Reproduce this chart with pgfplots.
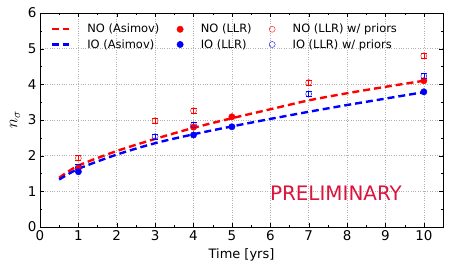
\documentclass[border=0pt]{standalone}
\usepackage{pgfplots}
\pgfplotsset{compat=1.18}
\usepackage{fontspec}
\setmainfont{DejaVu Sans}
\definecolor{prelim}{RGB}{220,20,60}
\begin{document}
\begin{tikzpicture}
\path[use as bounding box] (-40bp,-43bp) rectangle (410bp,227bp);
\begin{axis}[
  scale only axis, width=403bp, height=214bp,
  xmin=0, xmax=10.5, ymin=0, ymax=6,
  xtick={0,1,...,10}, ytick={0,1,...,6},
  minor xtick={0.5,1.5,...,10.5}, minor ytick={0.5,1.5,...,5.5},
  tick align=inside, ticks=both,
  xtick pos=both, ytick pos=both,
  major tick length=4bp, minor tick length=2bp,
  grid=major, major grid style={gray!60, dotted, line width=0.6pt},
  axis line style={black, line width=0.8pt},
  tick style={black},
  /pgf/number format/assume math mode=true,
  tick label style={font=\fontsize{13.5}{13.5}\selectfont},
  xlabel={Time [yrs]}, ylabel={$n_\sigma$},
  xlabel style={font=\fontsize{13}{13}\selectfont, yshift=-1bp},
  ylabel style={font=\fontsize{17}{17}\selectfont, yshift=1bp},
  legend columns=3,
  legend style={draw=none, fill=none, at={(0.018,0.965)}, anchor=north west,
    font=\fontsize{11.5}{15}\selectfont, column sep=14bp, row sep=2bp,
    nodes={inner xsep=3.5bp, inner ysep=1.5bp}},
  legend cell align=left,
]
% NO Asimov
\addplot[red, line width=2.4pt, smooth, dash pattern=on 7pt off 4pt] coordinates {
(0.5,1.38) (1,1.72) (2,2.13) (3,2.47) (4,2.78) (5,3.05) (6,3.30) (7,3.55) (8,3.75) (9,3.93) (10,4.10)};
\addlegendentry{NO (Asimov)}
% NO LLR
\addplot[only marks, mark=*, red, mark size=3.2pt] coordinates {
(1,1.65) (4,2.80) (5,3.09) (10,4.10)};
\addlegendentry{NO (LLR)}
% NO priors
\addplot[only marks, mark=o, red, mark size=3pt,
  error bars/.cd, y dir=both, y explicit, error mark options={rotate=90, mark size=3pt, red}] coordinates {
(1,1.93) +- (0,0.07) (3,2.98) +- (0,0.07) (4,3.26) +- (0,0.07) (7,4.05) +- (0,0.07) (10,4.80) +- (0,0.07)};
\addlegendentry{NO (LLR) w/ priors}
% IO Asimov
\addplot[blue, line width=2.4pt, smooth, dash pattern=on 7pt off 4pt] coordinates {
(0.5,1.33) (1,1.63) (2,2.03) (3,2.35) (4,2.60) (5,2.82) (6,3.03) (7,3.23) (8,3.42) (9,3.60) (10,3.78)};
\addlegendentry{IO (Asimov)}
% IO LLR
\addplot[only marks, mark=*, blue, mark size=3.2pt] coordinates {
(1,1.55) (4,2.58) (5,2.81) (10,3.79)};
\addlegendentry{IO (LLR)}
% IO priors
\addplot[only marks, mark=o, blue, mark size=3pt,
  error bars/.cd, y dir=both, y explicit, error mark options={rotate=90, mark size=3pt, blue}] coordinates {
(1,1.68) +- (0,0.07) (3,2.53) +- (0,0.07) (4,2.86) +- (0,0.07) (7,3.73) +- (0,0.07) (10,4.23) +- (0,0.07)};
\addlegendentry{IO (LLR) w/ priors}
\node[text=prelim, font=\fontsize{20}{20}\selectfont] at (axis cs:7.71,0.95) {PRELIMINARY};
\end{axis}
\end{tikzpicture}
\end{document}
